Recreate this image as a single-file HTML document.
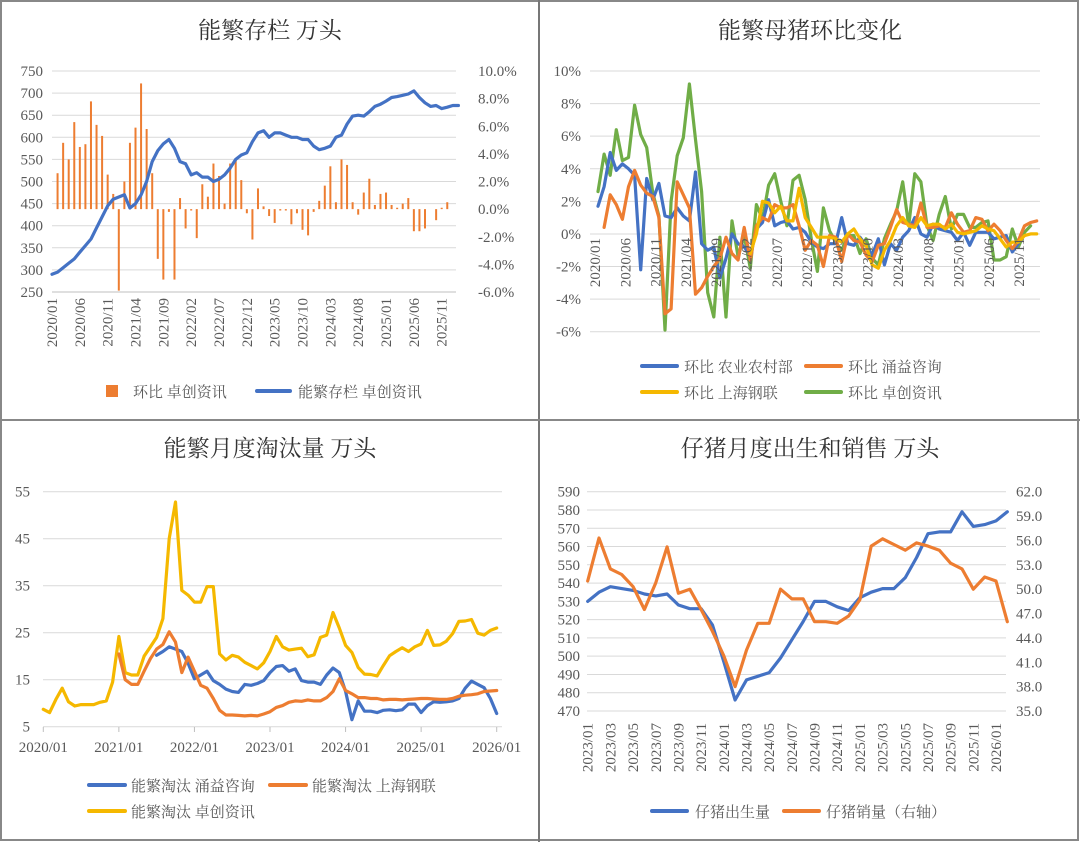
<!DOCTYPE html>
<html><head><meta charset="utf-8">
<style>
html,body{margin:0;padding:0;background:#fff;}
svg{display:block;font-family:"Liberation Sans","Noto Serif CJK SC",serif;}
.tk{font-size:15px;fill:#595959;font-family:"Liberation Serif","Liberation Sans",serif;}
.lg{font-size:15px;fill:#595959;font-family:"Liberation Serif","Noto Serif CJK SC",serif;}
.tt{font-size:23px;fill:#333;font-family:"Liberation Serif","Noto Serif CJK SC",serif;}
</style></head>
<body>
<svg id="c" width="1080" height="842" viewBox="0 0 1080 842" xmlns="http://www.w3.org/2000/svg">
<rect x="1" y="1" width="1077" height="839" fill="#fff" stroke="#888" stroke-width="2"/>
<line x1="539" y1="0" x2="539" y2="842" stroke="#777" stroke-width="2"/>
<line x1="0" y1="420" x2="1080" y2="420" stroke="#888" stroke-width="2"/>
<text class="tt" x="270" y="38" text-anchor="middle">能繁存栏 万头</text>
<text class="tt" x="810" y="38" text-anchor="middle">能繁母猪环比变化</text>
<text class="tt" x="270" y="456" text-anchor="middle">能繁月度淘汰量 万头</text>
<text class="tt" x="810" y="456" text-anchor="middle">仔猪月度出生和销售 万头</text>
<g id="g1"></g>
<g id="g2"></g>
<g id="g3"></g>
<g id="g4"></g>
<rect x="106" y="385" width="12" height="12" fill="#ed7d31"/>
<text class="lg" x="133" y="397">环比 卓创资讯</text>
<line x1="257" y1="391" x2="290" y2="391" stroke="#4472c4" stroke-width="4" stroke-linecap="round"/>
<text class="lg" x="298" y="397">能繁存栏 卓创资讯</text>

<line x1="642" y1="366" x2="677" y2="366" stroke="#4472c4" stroke-width="4" stroke-linecap="round"/>
<text class="lg" x="684" y="372">环比 农业农村部</text>
<line x1="806" y1="366" x2="841" y2="366" stroke="#ed7d31" stroke-width="4" stroke-linecap="round"/>
<text class="lg" x="848" y="372">环比 涌益咨询</text>
<line x1="642" y1="392" x2="677" y2="392" stroke="#f5b800" stroke-width="4" stroke-linecap="round"/>
<text class="lg" x="684" y="398">环比 上海钢联</text>
<line x1="806" y1="392" x2="841" y2="392" stroke="#70ad47" stroke-width="4" stroke-linecap="round"/>
<text class="lg" x="848" y="398">环比 卓创资讯</text>

<line x1="89" y1="785" x2="125" y2="785" stroke="#4472c4" stroke-width="4" stroke-linecap="round"/>
<text class="lg" x="131" y="791">能繁淘汰 涌益咨询</text>
<line x1="270" y1="785" x2="306" y2="785" stroke="#ed7d31" stroke-width="4" stroke-linecap="round"/>
<text class="lg" x="312" y="791">能繁淘汰 上海钢联</text>
<line x1="89" y1="811" x2="125" y2="811" stroke="#f5b800" stroke-width="4" stroke-linecap="round"/>
<text class="lg" x="131" y="817">能繁淘汰 卓创资讯</text>

<line x1="652" y1="811" x2="687" y2="811" stroke="#4472c4" stroke-width="4" stroke-linecap="round"/>
<text class="lg" x="695" y="817">仔猪出生量</text>
<line x1="784" y1="811" x2="819" y2="811" stroke="#ed7d31" stroke-width="4" stroke-linecap="round"/>
<text class="lg" x="826" y="817">仔猪销量（右轴）</text>
</svg>
<script>
const c1Stock = [290,295,305,315,325,340,355,370,395,420,445,460,465,470,440,450,470,500,545,570,585,595,575,545,540,515,520,510,510,500,505,515,530,550,560,565,590,610,615,600,610,610,605,600,600,595,595,580,572,575,580,600,605,630,648,650,648,658,670,675,682,690,692,695,698,705,690,678,670,672,665,668,672,672];
const c1Mom = [null,2.6,4.8,3.6,6.3,4.5,4.7,7.8,6.1,5.3,2.5,1.1,-5.9,2.0,4.8,5.9,9.1,5.8,2.6,-3.6,-5.1,-0.2,-5.1,0.8,-1.4,-0.1,-2.1,1.8,0.9,3.3,2.4,0.4,3.3,3.6,2.1,-0.3,-2.2,1.5,0.2,-0.5,-1.0,-0.1,-0.1,-1.1,-0.3,-1.5,-1.9,-0.2,0.6,1.7,3.1,0.5,3.6,3.2,0.5,-0.4,1.2,2.2,0.3,1.1,1.2,0.3,0.1,0.4,0.8,-1.6,-1.6,-1.4,0.0,-0.8,0.1,0.5,null,null];
const c1XLabels = ["2020/01","2020/06","2020/11","2021/04","2021/09","2022/02","2022/07","2022/12","2023/05","2023/10","2024/03","2024/08","2025/01","2025/06","2025/11"];
const c1LeftTicks = [250,300,350,400,450,500,550,600,650,700,750];
const c1RightTicks = [-6,-4,-2,0,2,4,6,8,10];
const c2Moa = [1.7,2.9,5.0,3.9,4.3,4.0,3.6,-2.2,3.4,2.1,3.1,1.1,1.0,1.6,1.1,0.8,3.8,-0.6,-1.0,-0.8,-2.7,-1.5,0.0,-0.6,-0.8,-1.3,0.3,0.7,2.1,0.5,0.7,0.8,0.3,0.4,0.1,-0.5,-0.8,-0.9,-0.6,-0.6,1.0,-0.6,-0.7,-0.2,-0.7,-1.3,-0.3,-1.9,-0.6,-1.0,-0.2,0.2,1.0,0.0,-0.2,0.6,0.3,0.2,0.1,-0.4,0.1,-0.7,0.1,0.1,0.1,-0.3,-0.2,-0.1,-1.1,-0.6,null,null,null];
const c2Yongyi = [null,0.4,2.4,1.8,0.9,2.9,3.9,3.0,2.5,2.3,1.0,-4.9,-4.6,3.2,2.4,1.6,-3.7,-3.3,-2.6,-2.0,-1.5,-0.2,-1.2,-1.6,0.4,-1.6,0.5,1.0,0.8,1.8,1.6,1.6,1.8,0.5,-1.0,-0.4,-0.7,-2.0,-0.1,-0.2,-1.7,0.0,-0.4,-0.5,-1.3,-1.7,-0.7,-0.6,0.4,1.5,0.7,0.6,0.5,1.9,0.4,0.4,0.5,0.4,1.3,0.6,0.1,0.2,1.0,0.9,0.2,0.6,0.2,-0.4,-0.9,-0.4,0.5,0.7,0.8];
const c2Mysteel = [null,null,null,null,null,null,null,null,null,null,null,null,null,null,null,null,null,null,null,null,null,null,null,null,null,-1.2,0.0,2.0,1.9,1.3,1.7,0.8,0.8,2.8,1.0,0.4,-0.2,-0.2,-0.2,-0.3,-0.5,0.0,0.3,-0.3,-0.7,-1.9,-2.1,-1.0,-0.4,0.5,1.0,0.5,0.4,1.0,0.5,0.6,0.6,0.3,0.6,0.1,0.0,0.1,0.2,0.5,0.3,0.2,-0.3,-0.8,-0.5,-0.5,-0.1,0.0,0.0];
const c2Zhuochuang = [2.6,4.9,3.6,6.4,4.5,4.7,7.9,6.1,5.3,2.5,1.1,-5.9,2.0,4.8,5.9,9.2,5.8,2.6,-3.6,-5.1,-0.2,-5.1,0.8,-1.4,-0.1,-2.1,1.8,0.9,3.0,3.7,2.0,0.5,3.3,3.6,2.1,-0.3,-2.3,1.6,0.2,-0.5,-1.0,-0.1,-0.1,-1.2,-0.3,-1.5,-1.9,-0.3,0.6,1.4,3.2,0.5,3.7,3.2,0.5,-0.4,1.2,2.3,0.3,1.2,1.2,0.4,0.4,0.7,0.8,-1.6,-1.6,-1.4,0.3,-0.8,0.1,0.5,null];
const c2XLabels = c1XLabels;
const c2Ticks = [-6,-4,-2,0,2,4,6,8,10];
const c3Zhuochuang = [8.7,8.0,10.8,13.2,10.3,9.4,9.7,9.7,9.7,10.2,10.5,14.5,24.2,16.5,16.0,16.0,20.0,22.0,24.0,28.0,45.0,52.8,34.0,33.0,31.5,31.5,34.8,34.8,20.5,19.2,20.2,19.8,18.7,18.0,17.3,18.6,21.0,24.2,22.0,21.3,21.5,21.7,19.9,20.3,24.0,24.5,29.3,26.0,22.3,20.8,17.6,16.2,16.1,15.8,18.0,20.1,21.0,21.8,21.0,22.0,22.6,25.5,22.3,22.4,23.2,24.8,27.4,27.5,27.8,24.9,24.5,25.5,26.0];
const c3Mysteel = [null,null,null,null,null,null,null,null,null,null,null,null,20.5,15.0,14.0,14.0,16.8,19.5,21.5,22.5,25.2,23.0,16.5,19.8,16.8,13.8,13.2,11.0,8.5,7.5,7.5,7.4,7.3,7.4,7.3,7.7,8.2,9.1,9.5,10.2,10.5,10.4,10.7,10.5,10.5,11.2,12.5,15.2,12.7,12.0,11.2,11.2,11.0,11.0,10.7,10.8,10.8,10.7,10.8,10.9,11.0,11.0,10.9,10.8,10.8,11.0,11.5,11.7,11.8,12.0,12.5,12.6,12.7];
const c3Yongyi = [null,null,null,null,null,null,null,null,null,null,null,null,null,null,null,null,null,null,20.2,21.0,22.0,21.5,21.0,18.5,15.2,16.0,16.8,14.8,14.0,13.0,12.5,12.3,14.0,13.8,14.2,14.8,16.5,17.8,18.0,16.8,17.3,14.8,14.5,14.5,14.0,16.0,17.5,16.5,12.5,6.5,10.5,8.3,8.3,8.0,8.5,8.6,8.4,8.6,9.8,9.8,8.0,9.5,10.3,10.2,10.3,10.5,11.0,13.2,14.7,14.0,13.3,11.0,7.8];
const c3XLabels = ["2020/01","2021/01","2022/01","2023/01","2024/01","2025/01","2026/01"];
const c3Ticks = [5,15,25,35,45,55];
const c4Births = [530,535,538,537,536,534,533,534,528,526,526,517,497,476,487,489,491,499,509,519,530,530,527,525,532,535,537,537,543,554,567,568,568,579,571,572,574,579];
const c4Sales = [51.0,56.3,52.5,51.8,50.3,47.5,50.8,55.2,49.5,50.0,47.5,44.8,41.8,38.0,42.5,45.8,45.8,50.0,48.8,48.8,46.0,46.0,45.8,46.7,48.7,55.3,56.2,55.5,54.8,55.7,55.3,54.8,53.2,52.5,50.0,51.5,51.0,46.0];
const c4XLabels = ["2023/01","2023/03","2023/05","2023/07","2023/09","2023/11","2024/01","2024/03","2024/05","2024/07","2024/09","2024/11","2025/01","2025/03","2025/05","2025/07","2025/09","2025/11","2026/01"];
const c4LeftTicks = [470,480,490,500,510,520,530,540,550,560,570,580,590];
const c4RightTicks = [35,38,41,44,47,50,53,56,59,62];

const NS = "http://www.w3.org/2000/svg";
function mk(parent, tag, attrs){const e=document.createElementNS(NS,tag);for(const k in attrs)e.setAttribute(k,attrs[k]);parent.appendChild(e);return e;}
function lin(d0,d1,r0,r1){return v=>r0+(v-d0)/(d1-d0)*(r1-r0);}
function pathOf(vals,x,y){let d="",pen=false;vals.forEach((v,i)=>{if(v===null){pen=false;return;}d+=(pen?"L":"M")+x(i).toFixed(1)+","+y(v).toFixed(1);pen=true;});return d;}
function grid(g,ticks,y,x0,x1){ticks.forEach(t=>{const l=mk(g,"line",{x1:x0,x2:x1,y1:y(t),y2:y(t),stroke:"#d9d9d9","stroke-width":1});

});}
function ytick(g,ticks,y,x,anchor,fmt){ticks.forEach(t=>{const e=mk(g,"text",{x:x,y:y(t)+5,"text-anchor":anchor,class:"tk"});e.textContent=fmt(t);

});}
function line(g,vals,x,y,color,name){const p=mk(g,"path",{d:pathOf(vals,x,y),fill:"none",stroke:color,"stroke-width":3.2,"stroke-linejoin":"round","stroke-linecap":"round"});

}
function rotLabels(g,labels,xf,yTop){labels.forEach((s,i)=>{const xx=xf(i);const e=mk(g,"text",{x:0,y:0,"text-anchor":"end",class:"tk",transform:`translate(${xx+5},${yTop}) rotate(-90)`});e.textContent=s;

});}

(function(){
const g=document.getElementById("g1");
const x=lin(0,70,52,441.7), yl=lin(250,750,292,71), yr=lin(-6,10,292,71);
grid(g,c1LeftTicks,yl,52,456);
ytick(g,c1LeftTicks,yl,43,"end",t=>t);
ytick(g,c1RightTicks,yr,478,"start",t=>t.toFixed(1)+"%");
c1Mom.forEach((v,i)=>{if(v===null)return;const y0=yr(0),y1=yr(v);const r=mk(g,"rect",{x:x(i)-1,y:Math.min(y0,y1),width:2,height:Math.abs(y1-y0),fill:"#ed7d31"});

});
const ax=mk(g,"line",{x1:52,x2:456,y1:292,y2:292,stroke:"#bfbfbf"});


line(g,c1Stock,x,yl,"#4472c4","stock-line");
rotLabels(g,c1XLabels,i=>x(i*5),298);
})();
(function(){
const g=document.getElementById("g2");
const x=lin(0,72,598,1036.7), y=lin(-6,10,331.7,71);
grid(g,c2Ticks,y,590,1040);
ytick(g,c2Ticks,y,581,"end",t=>t+"%");
line(g,c2Zhuochuang,x,y,"#70ad47","zhuochuang-line");
line(g,c2Moa,x,y,"#4472c4","moa-line");
line(g,c2Yongyi,x,y,"#ed7d31","yongyi-line");
line(g,c2Mysteel,x,y,"#f5b800","mysteel-line");
rotLabels(g,c2XLabels,i=>595+i*5*6.06,238);
})();
(function(){
const g=document.getElementById("g3");
const x=lin(0,72,43.3,496.7), y=lin(5,55,726.7,491.7);
grid(g,c3Ticks,y,43,502);
ytick(g,c3Ticks,y,30,"end",t=>t);
line(g,c3Zhuochuang,x,y,"#f5b800","cull-zhuochuang-line");
line(g,c3Yongyi,x,y,"#4472c4","cull-yongyi-line");
line(g,c3Mysteel,x,y,"#ed7d31","cull-mysteel-line");
c3XLabels.forEach((s,i)=>{const e=mk(g,"text",{x:x(i*12),y:752,"text-anchor":"middle",class:"tk"});e.textContent=s;


const t=mk(g,"line",{x1:x(i*12),x2:x(i*12),y1:727,y2:732,stroke:"#bfbfbf"});

});
})();
(function(){
const g=document.getElementById("g4");
const x=lin(0,36,587.7,996), yl=lin(470,590,711,491.7), yr=lin(35,62,711,491.7);
grid(g,c4LeftTicks,yl,587,1006);
ytick(g,c4LeftTicks,yl,580,"end",t=>t);
ytick(g,c4RightTicks,yr,1016,"start",t=>t.toFixed(1));
line(g,c4Births,x,yl,"#4472c4","births-line");
line(g,c4Sales,x,yr,"#ed7d31","sales-line");
rotLabels(g,c4XLabels,i=>x(i*2),723);
})();
</script>
</body></html>
